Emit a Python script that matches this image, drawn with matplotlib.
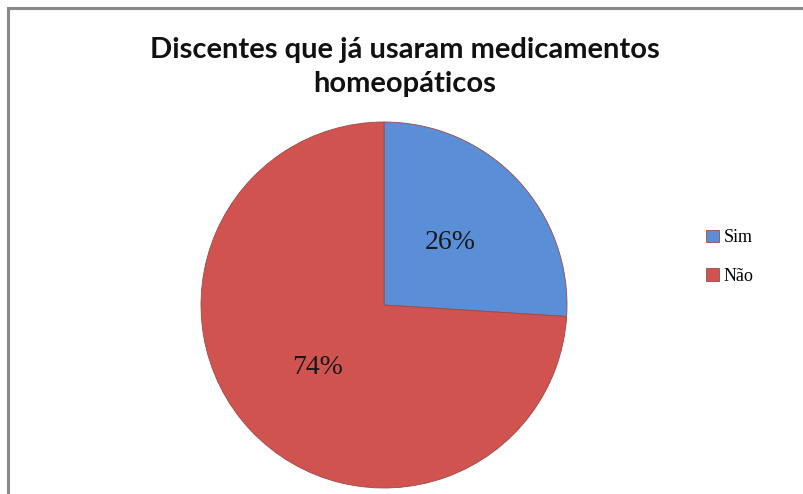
import matplotlib.pyplot as plt
from matplotlib.patches import Rectangle
from matplotlib.font_manager import FontProperties

categorias = ['Sim', 'Não']
percentuais = [26, 74]
cores = ['#5A8ED6', '#D15350']
titulo = 'Discentes que já usaram medicamentos\nhomeopáticos'

W, H = 804, 494
fig = plt.figure(figsize=(W / 100, H / 100), dpi=100)
fig.patch.set_facecolor('white')

serif = ['Liberation Serif', 'DejaVu Serif']

# moldura cinza (só topo e esquerda visíveis no original)
fig.patches.append(Rectangle((8 / W, -0.05), 1.2, 1 - 8 / H + 0.05, transform=fig.transFigure,
                             fill=False, edgecolor='#8a8a8a', linewidth=2.2))

cx, cy, r = 384, 305, 183
ax = fig.add_axes([(cx - r) / W, (H - cy - r) / H, 2 * r / W, 2 * r / H])
wedges, texts, autotexts = ax.pie(percentuais, colors=cores, startangle=90, counterclock=False,
                                  autopct='%1.0f%%', pctdistance=0.5,
                                  wedgeprops=dict(edgecolor='#9a4a48', linewidth=0.6),
                                  textprops=dict(family=serif, fontsize=20, color='#1a1a1a'))
ax.set_xlim(-1, 1)
ax.set_ylim(-1, 1)
ax.set_aspect('equal')

fig.text(405 / W, 1 - 67 / H, titulo, ha='center', va='center', fontsize=21,
         fontweight='bold', family='Lato', linespacing=1.4, color='#111111')

fp = FontProperties(family=serif, size=13)
leg = fig.legend(wedges, categorias, loc='center left', bbox_to_anchor=(690 / W, 1 - 257 / H),
                 frameon=False, prop=fp,
                 handlelength=0.7, handleheight=0.7, handletextpad=0.25, labelspacing=1.2)

fig.savefig('out.png', dpi=100)
